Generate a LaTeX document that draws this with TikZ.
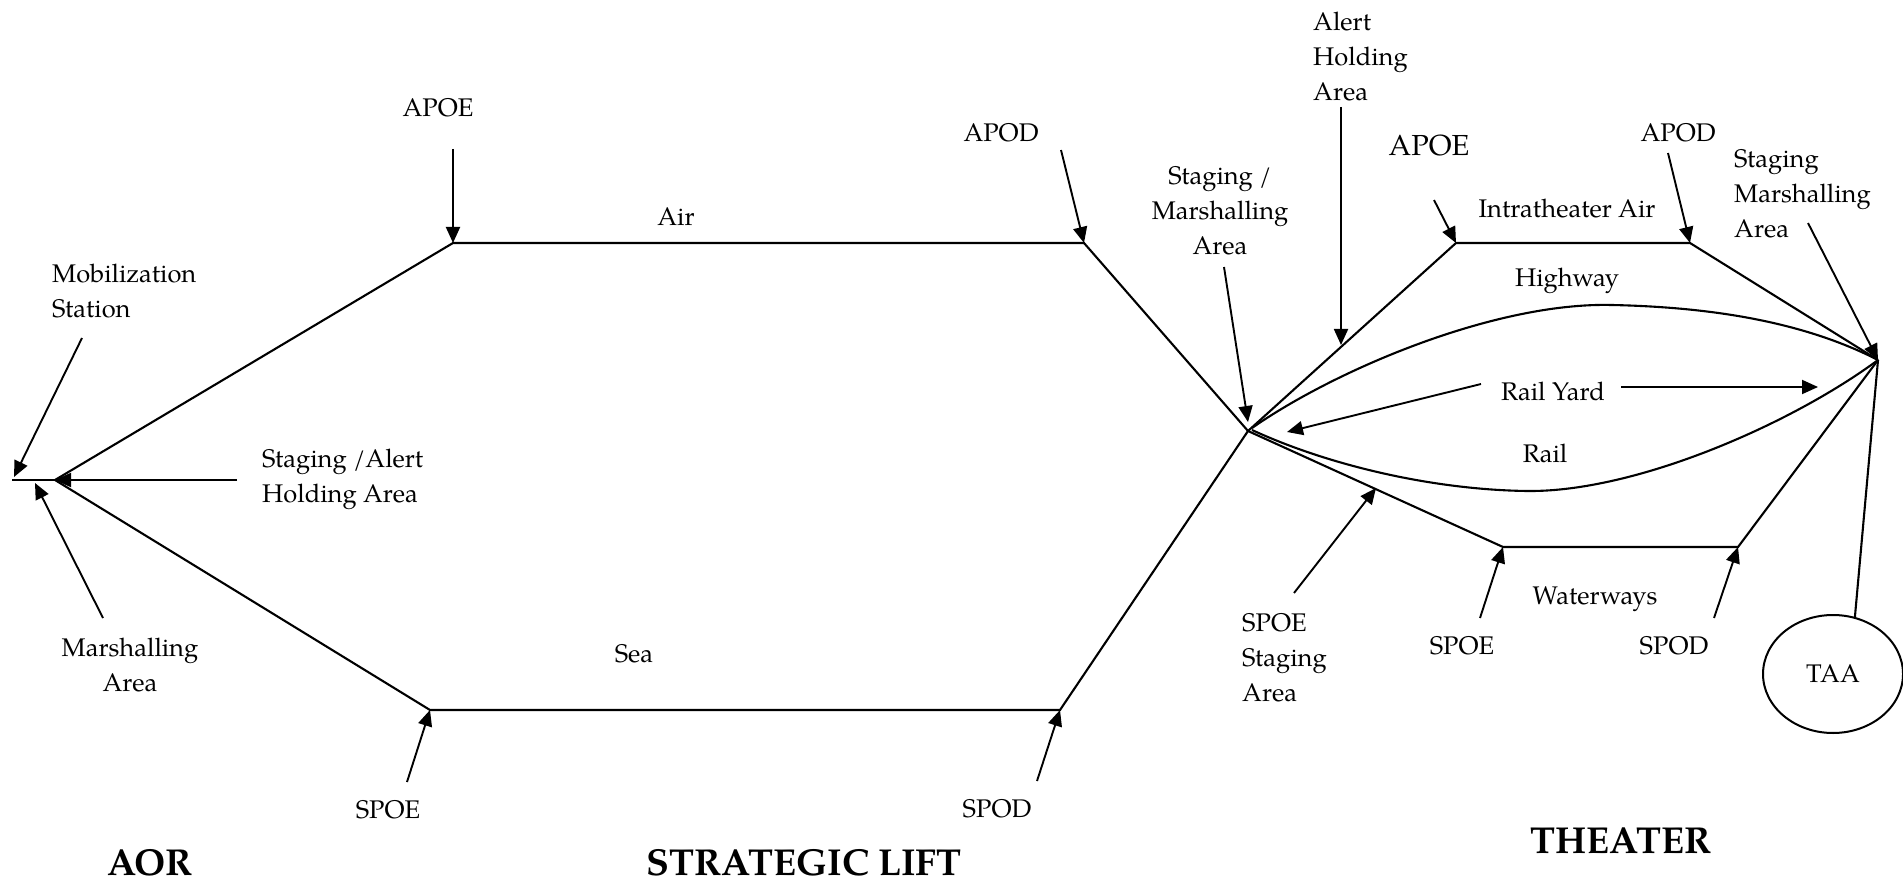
\documentclass[tikz,border=0pt]{standalone}
\usepackage{fontspec}
\setmainfont{TeX Gyre Pagella}
\usetikzlibrary{arrows.meta,shapes.geometric}
% stacked multi-line label whose baseline is the first line
\newcommand{\stk}[2][l]{\begin{tabular}[t]{@{}#1@{}}#2\end{tabular}}
\begin{document}
\begin{tikzpicture}[x=1pt,y=-1pt,
  lbl/.style={inner sep=0pt,font=\fontsize{25.5}{35}\selectfont},
  ttl/.style={inner sep=0pt,font=\fontsize{37.5}{45}\selectfont\bfseries},
  route/.style={line width=2.1pt},
  arr/.style={line width=1.9pt,-{Triangle[length=16pt,width=14pt]}},
  ]
\fill[white] (0,0) rectangle (1903,882);
\useasboundingbox (0,0) rectangle (1903,882);

% ---- route junctions ----
\coordinate (aorW) at (12,480);
\coordinate (aor) at (55,480);
\coordinate (apoe) at (453,243);
\coordinate (apod) at (1084,243);
\coordinate (spoe) at (430,710);
\coordinate (spod) at (1060,710);
\coordinate (hub) at (1248,431);
\coordinate (tapoe) at (1456,243);
\coordinate (tapod) at (1690,243);
\coordinate (tspoe) at (1503,547);
\coordinate (tspod) at (1738,547);
\coordinate (taaHub) at (1878,360);
\coordinate (hwy0) at (1252,428);
\coordinate (hwyTop) at (1612,305);
\coordinate (rail0) at (1252,430);
\coordinate (railLow) at (1528,491);

% ---- TAA ----
\node[lbl,draw,ellipse,line width=2pt,minimum width=140pt,minimum height=118pt] (taa) at (1833,674) {TAA};

% ---- strategic lift routes ----
\draw[route] (aorW) -- (aor);
\draw[route] (aor) -- (apoe) -- (apod) -- (hub);
\draw[route] (aor) -- (spoe) -- (spod) -- (hub);

% ---- theater routes ----
\draw[route] (hub) -- (tapoe) -- (tapod) -- (taaHub);
\draw[route] (hub) -- (tspoe) -- (tspod) -- (taaHub);
\draw[route] (hwy0) .. controls (1335,370) and (1495,302) .. (hwyTop)
                    .. controls (1705,307) and (1800,320) .. (taaHub);
\draw[route] (rail0) .. controls (1330,466) and (1435,490) .. (railLow)
                     .. controls (1635,492) and (1790,425) .. (taaHub);
\draw[route] (taaHub) -- (taa.69);

% ---- labels ----
\node[lbl,anchor=base west] (mob) at (52,283) {\stk{Mobilization\\Station}};
\node[lbl,anchor=base west] (stgA) at (262,467) {\stk{Staging /Alert\\Holding Area}};
\node[lbl,anchor=base] (mar) at (130,656) {\stk[c]{Marshalling\\Area}};
\node[lbl,anchor=base] (apoeL) at (438,117) {APOE};
\node[lbl,anchor=base] (airL) at (676,226) {Air};
\node[lbl,anchor=base] (apodL) at (1001,142) {APOD};
\node[lbl,anchor=base] (seaL) at (634,662) {Sea};
\node[lbl,anchor=base] (spoeL) at (388,818) {SPOE};
\node[lbl,anchor=base] (spodL) at (997,817) {SPOD};
\node[ttl,anchor=base] (aorT) at (150,875) {AOR};
\node[ttl,anchor=base] (slT) at (804,875) {STRATEGIC LIFT};
\node[ttl,anchor=base] (thT) at (1621,853) {THEATER};
\node[lbl,anchor=base west] (ahL) at (1313,31) {\stk{Alert\\Holding\\Area}};
\node[lbl,anchor=base] (smLL) at (1220,185) {\stk[c]{Staging /\\Marshalling\\Area}};
\node[lbl,anchor=base,font=\fontsize{29}{35}\selectfont] (tapoeL) at (1429,156) {APOE};
\node[lbl,anchor=base] (itaL) at (1567,218) {Intratheater Air};
\node[lbl,anchor=base] (tapodL) at (1678,142) {APOD};
\node[lbl,anchor=base west] (smRL) at (1734,168) {\stk{Staging\\Marshalling\\Area}};
\node[lbl,anchor=base] (hwyL) at (1567,287) {Highway};
\node[lbl,anchor=base] (ryL) at (1553,400) {Rail Yard};
\node[lbl,anchor=base] (railL) at (1545,462) {Rail};
\node[lbl,anchor=base] (wwL) at (1595,604) {Waterways};
\node[lbl,anchor=base] (tspoeL) at (1462,654) {SPOE};
\node[lbl,anchor=base] (tspodL) at (1674,654) {SPOD};
\node[lbl,anchor=base west] (sspL) at (1242,631) {\stk{SPOE\\Staging\\Area}};

% ---- pointer arrows: tails and tips ----
\coordinate (mobT) at (82,338);   \coordinate (mobH) at (14,477);
\coordinate (marT) at (103,618);  \coordinate (marH) at (35,483);
\coordinate (stgT) at (237,480);
\coordinate (apoeT) at (453,149);
\coordinate (apodT) at (1061,150);
\coordinate (spoeT) at (407,782);
\coordinate (spodT) at (1037,781);
\coordinate (ahT) at (1341,107);  \coordinate (ahH) at (1341,345);
\coordinate (tapoeT) at (1434,200);
\coordinate (tapodT) at (1668,153);
\coordinate (smRT) at (1808,223);
\coordinate (smLT) at (1224,267); \coordinate (smLH) at (1248,422);
\coordinate (ryLT) at (1481,384); \coordinate (ryLH) at (1287,432);
\coordinate (ryRT) at (1621,387); \coordinate (ryRH) at (1818,387);
\coordinate (sspT) at (1294,593); \coordinate (sspH) at (1376,488);
\coordinate (tspoeT) at (1480,618);
\coordinate (tspodT) at (1714,618);

\draw[arr] (mobT) -- (mobH);
\draw[arr] (marT) -- (marH);
\draw[arr] (stgT) -- (aor);
\draw[arr] (apoeT) -- (apoe);
\draw[arr] (apodT) -- (apod);
\draw[arr] (spoeT) -- (spoe);
\draw[arr] (spodT) -- (spod);
\draw[arr] (ahT) -- (ahH);
\draw[arr] (tapoeT) -- (tapoe);
\draw[arr] (tapodT) -- (tapod);
\draw[arr] (smRT) -- (taaHub);
\draw[arr] (smLT) -- (smLH);
\draw[arr] (ryLT) -- (ryLH);
\draw[arr] (ryRT) -- (ryRH);
\draw[arr] (sspT) -- (sspH);
\draw[arr] (tspoeT) -- (tspoe);
\draw[arr] (tspodT) -- (tspod);
\end{tikzpicture}
\end{document}
